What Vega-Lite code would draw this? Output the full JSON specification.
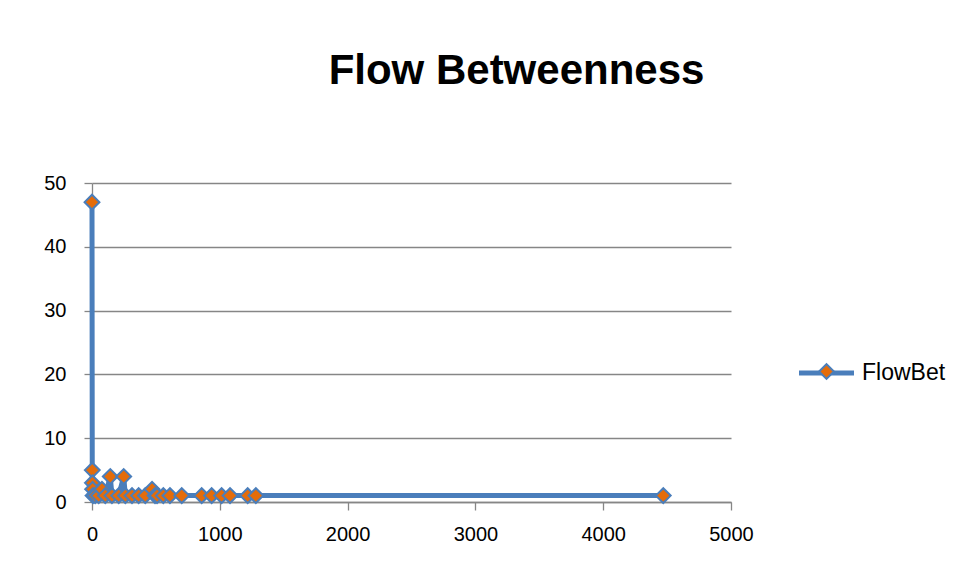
{
  "$schema": "https://vega.github.io/schema/vega-lite/v6.json",
  "width": 639,
  "height": 319,
  "autosize": {"type": "none"},
  "padding": {"left": 92, "top": 183, "right": 227, "bottom": 81},
  "background": "white",
  "config": {"view": {"stroke": null}, "font": "Liberation Sans"},
  "title": {
    "text": "Flow Betweenness",
    "fontSize": 42,
    "font": "Liberation Sans",
    "fontWeight": "bold",
    "color": "#000000",
    "anchor": "middle",
    "frame": "group",
    "dx": 105,
    "offset": 47,
    "baseline": "alphabetic"
  },
  "data": {
    "values": [
      {"x": 0, "y": 47, "series": "FlowBet"},
      {"x": 2, "y": 5, "series": "FlowBet"},
      {"x": 3, "y": 3, "series": "FlowBet"},
      {"x": 5, "y": 2, "series": "FlowBet"},
      {"x": 8, "y": 1, "series": "FlowBet"},
      {"x": 25, "y": 1, "series": "FlowBet"},
      {"x": 52, "y": 1, "series": "FlowBet"},
      {"x": 78, "y": 2, "series": "FlowBet"},
      {"x": 104, "y": 1, "series": "FlowBet"},
      {"x": 143, "y": 4, "series": "FlowBet"},
      {"x": 156, "y": 1, "series": "FlowBet"},
      {"x": 209, "y": 1, "series": "FlowBet"},
      {"x": 248, "y": 4, "series": "FlowBet"},
      {"x": 261, "y": 1, "series": "FlowBet"},
      {"x": 313, "y": 1, "series": "FlowBet"},
      {"x": 365, "y": 1, "series": "FlowBet"},
      {"x": 417, "y": 1, "series": "FlowBet"},
      {"x": 470, "y": 2, "series": "FlowBet"},
      {"x": 493, "y": 1, "series": "FlowBet"},
      {"x": 509, "y": 1, "series": "FlowBet"},
      {"x": 558, "y": 1, "series": "FlowBet"},
      {"x": 610, "y": 1, "series": "FlowBet"},
      {"x": 702, "y": 1, "series": "FlowBet"},
      {"x": 858, "y": 1, "series": "FlowBet"},
      {"x": 936, "y": 1, "series": "FlowBet"},
      {"x": 1014, "y": 1, "series": "FlowBet"},
      {"x": 1080, "y": 1, "series": "FlowBet"},
      {"x": 1218, "y": 1, "series": "FlowBet"},
      {"x": 1282, "y": 1, "series": "FlowBet"},
      {"x": 4470, "y": 1, "series": "FlowBet"}
    ]
  },
  "encoding": {
    "x": {
      "field": "x",
      "type": "quantitative",
      "scale": {"domain": [0, 5000], "nice": false, "zero": false},
      "axis": {
        "title": null,
        "values": [0, 1000, 2000, 3000, 4000, 5000],
        "format": "d",
        "grid": false,
        "domainColor": "#868686",
        "domainWidth": 1.3,
        "tickColor": "#868686",
        "tickWidth": 1.3,
        "tickSize": 8,
        "labelFont": "Liberation Sans",
        "labelFontSize": 20,
        "labelColor": "#000000",
        "labelPadding": 14,
        "labelFlush": false
      }
    },
    "y": {
      "field": "y",
      "type": "quantitative",
      "scale": {"domain": [0, 50], "nice": false},
      "axis": {
        "title": null,
        "values": [0, 10, 20, 30, 40, 50],
        "format": "d",
        "grid": true,
        "gridColor": "#868686",
        "gridWidth": 1.3,
        "domainColor": "#868686",
        "domainWidth": 1.3,
        "tickColor": "#868686",
        "tickWidth": 1.3,
        "tickSize": 8,
        "labelFont": "Liberation Sans",
        "labelFontSize": 20,
        "labelColor": "#000000",
        "labelPadding": 18
      }
    }
  },
  "layer": [
    {
      "mark": {"type": "line", "strokeWidth": 5, "strokeCap": "round", "strokeJoin": "round"},
      "encoding": {
        "stroke": {
          "field": "series",
          "type": "nominal",
          "scale": {"range": ["#4A7EBB"]},
          "legend": {
            "orient": "none",
            "legendX": 704.5,
            "legendY": 160,
            "title": null,
            "symbolType": "stroke",
            "symbolSize": 3025,
            "symbolStrokeWidth": 5,
            "labelFont": "Liberation Sans",
            "labelFontSize": 23,
            "labelOffset": 5.5,
            "labelColor": "#000000"
          }
        }
      }
    },
    {
      "mark": {"type": "point", "shape": "diamond", "filled": true, "size": 220, "stroke": "#4A7EBB", "strokeWidth": 2, "opacity": 1},
      "encoding": {
        "fill": {
          "datum": "FlowBet",
          "type": "nominal",
          "scale": {"range": ["#E46C0A"]},
          "legend": {
            "orient": "none",
            "legendX": 723,
            "legendY": 177,
            "title": null,
            "symbolType": "diamond",
            "symbolSize": 220,
            "symbolStrokeColor": "#4A7EBB",
            "symbolStrokeWidth": 2,
            "symbolOpacity": 1,
            "labelFontSize": 23,
            "labelExpr": "''"
          }
        }
      }
    }
  ]
}
